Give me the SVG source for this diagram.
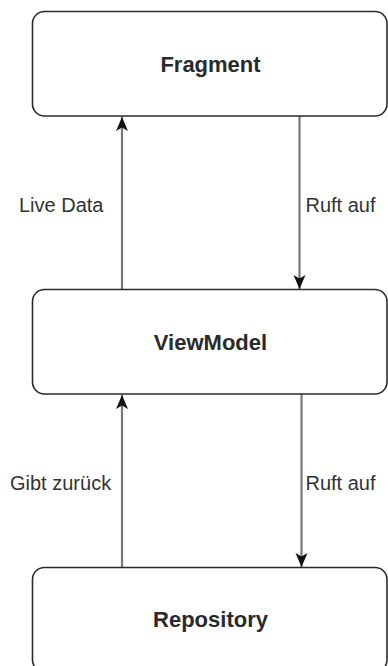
<svg xmlns="http://www.w3.org/2000/svg" width="388" height="666" viewBox="0 0 388 666">
  <style>
    .box { fill: #ffffff; stroke: #2b2b2b; stroke-width: 1.6; }
    .title { font-family: "Liberation Sans", Arial, sans-serif; font-size: 22px; font-weight: bold; fill: #2a2a2a; text-anchor: middle; }
    .label { font-family: "Liberation Sans", Arial, sans-serif; font-size: 20px; fill: #333333; }
    .edge { fill: none; stroke: #777777; stroke-width: 2.2; }
  </style>
  <defs>
    <marker id="arrow" markerUnits="userSpaceOnUse" markerWidth="16" markerHeight="16" viewBox="0 0 16 16" refX="14" refY="8" orient="auto">
      <path d="M0,2 L14,8 L0,14 L3.5,8 Z" fill="#111111"/>
    </marker>
  </defs>
  <rect width="388" height="666" fill="#ffffff"/>

  <g id="connectors">
    <line class="edge" x1="122" y1="289.5" x2="122" y2="117" marker-end="url(#arrow)"/>
    <line class="edge" x1="299.5" y1="116" x2="299.5" y2="289" marker-end="url(#arrow)"/>
    <line class="edge" x1="122" y1="567.5" x2="122" y2="395" marker-end="url(#arrow)"/>
    <line class="edge" x1="301.5" y1="394" x2="301.5" y2="567" marker-end="url(#arrow)"/>
    <text class="label" x="19" y="212">Live Data</text>
    <text class="label" x="305.5" y="212">Ruft auf</text>
    <text class="label" x="10" y="490">Gibt zurück</text>
    <text class="label" x="305.5" y="490">Ruft auf</text>
  </g>

  <g id="fragment">
    <rect class="box" x="32.5" y="11.5" width="354.5" height="104.5" rx="12" ry="12"/>
    <text class="title" x="210.5" y="71.5">Fragment</text>
  </g>

  <g id="viewmodel">
    <rect class="box" x="32.5" y="289.5" width="354.5" height="104.5" rx="12" ry="12"/>
    <text class="title" x="210.5" y="349.5">ViewModel</text>
  </g>

  <g id="repository">
    <rect class="box" x="32.5" y="567.5" width="354.5" height="104.5" rx="12" ry="12"/>
    <text class="title" x="210.5" y="627">Repository</text>
  </g>
</svg>
